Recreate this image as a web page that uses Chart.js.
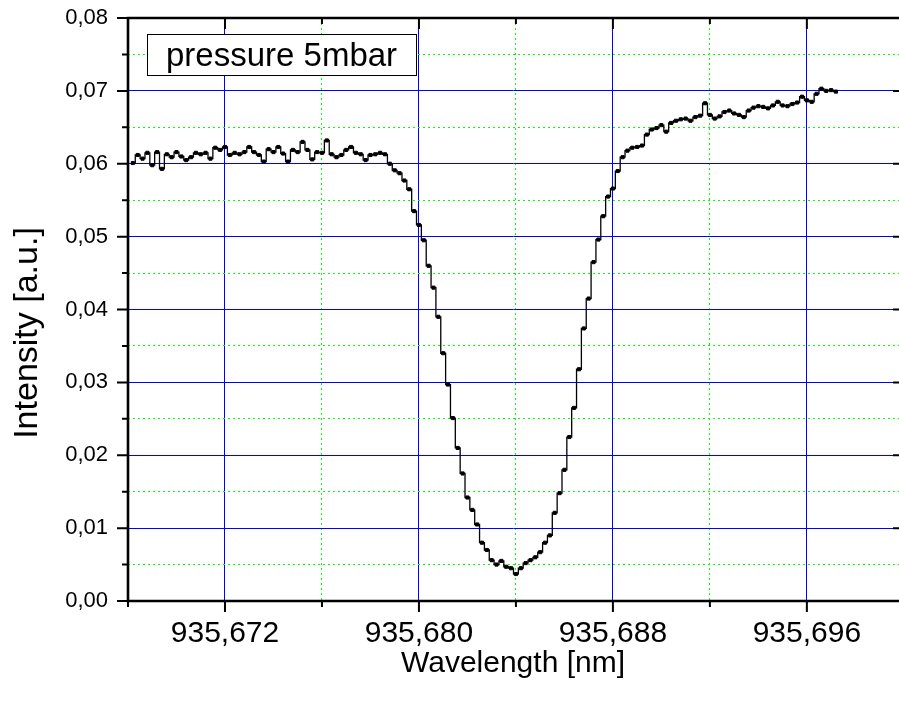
<!DOCTYPE html>
<html>
<head>
<meta charset="utf-8">
<script src="https://cdn.jsdelivr.net/npm/chart.js@4"></script>
<style>
  html, body { margin: 0; padding: 0; overflow: hidden; background: #fff; }
  canvas { display: block; }
</style>
</head>
<body>
<canvas id="myChart" width="899" height="706"></canvas>
<script>
const wavelength = [
  935.6682, 935.6684, 935.6686, 935.6688, 935.6690, 935.6692, 935.6694, 935.6696, 935.6698, 935.6700,
  935.6702, 935.6704, 935.6706, 935.6708, 935.6710, 935.6712, 935.6714, 935.6716, 935.6718, 935.6720,
  935.6722, 935.6724, 935.6726, 935.6728, 935.6730, 935.6732, 935.6734, 935.6736, 935.6738, 935.6740,
  935.6742, 935.6744, 935.6746, 935.6748, 935.6750, 935.6752, 935.6754, 935.6756, 935.6758, 935.6760,
  935.6762, 935.6764, 935.6766, 935.6768, 935.6770, 935.6772, 935.6774, 935.6776, 935.6778, 935.6780,
  935.6782, 935.6784, 935.6786, 935.6788, 935.6790, 935.6792, 935.6794, 935.6796, 935.6798, 935.6800,
  935.6802, 935.6804, 935.6806, 935.6808, 935.6810, 935.6812, 935.6814, 935.6816, 935.6818, 935.6820,
  935.6822, 935.6824, 935.6826, 935.6828, 935.6830, 935.6832, 935.6834, 935.6836, 935.6838, 935.6840,
  935.6842, 935.6844, 935.6846, 935.6848, 935.6850, 935.6852, 935.6854, 935.6856, 935.6858, 935.6860,
  935.6862, 935.6864, 935.6866, 935.6868, 935.6870, 935.6872, 935.6874, 935.6876, 935.6878, 935.6880,
  935.6882, 935.6884, 935.6886, 935.6888, 935.6890, 935.6892, 935.6894, 935.6896, 935.6898, 935.6900,
  935.6902, 935.6904, 935.6906, 935.6908, 935.6910, 935.6912, 935.6914, 935.6916, 935.6918, 935.6920,
  935.6922, 935.6924, 935.6926, 935.6928, 935.6930, 935.6932, 935.6934, 935.6936, 935.6938, 935.6940,
  935.6942, 935.6944, 935.6946, 935.6948, 935.6950, 935.6952, 935.6954, 935.6956, 935.6958, 935.6960,
  935.6962, 935.6964, 935.6966, 935.6968, 935.6970, 935.6972
];
const intensity = [
  0.0601, 0.0612, 0.0607, 0.0615, 0.0598, 0.0616, 0.0593, 0.0613, 0.0609, 0.0616,
  0.0610, 0.0605, 0.0609, 0.0615, 0.0613, 0.0615, 0.0607, 0.0622, 0.0619, 0.0623,
  0.0612, 0.0615, 0.0613, 0.0616, 0.0623, 0.0616, 0.0612, 0.0603, 0.0620, 0.0616,
  0.0623, 0.0614, 0.0603, 0.0619, 0.0616, 0.0630, 0.0619, 0.0606, 0.0616, 0.0615,
  0.0632, 0.0613, 0.0609, 0.0612, 0.0619, 0.0623, 0.0615, 0.0613, 0.0605, 0.0612,
  0.0613, 0.0615, 0.0613, 0.0600, 0.0591, 0.0587, 0.0577, 0.0565, 0.0535, 0.0516,
  0.0495, 0.0460, 0.0430, 0.0390, 0.0340, 0.0297, 0.0251, 0.0210, 0.0175, 0.0142,
  0.0125, 0.0105, 0.0080, 0.0070, 0.0056, 0.0050, 0.0055, 0.0047, 0.0045, 0.0037,
  0.0045, 0.0052, 0.0056, 0.0060, 0.0067, 0.0080, 0.0090, 0.0121, 0.0148, 0.0180,
  0.0225, 0.0265, 0.0318, 0.0374, 0.0415, 0.0465, 0.0496, 0.0528, 0.0555, 0.0566,
  0.0590, 0.0609, 0.0618, 0.0622, 0.0623, 0.0625, 0.0640, 0.0647, 0.0649, 0.0653,
  0.0644, 0.0656, 0.0659, 0.0661, 0.0662, 0.0659, 0.0664, 0.0666, 0.0683, 0.0667,
  0.0662, 0.0665, 0.0671, 0.0673, 0.0669, 0.0667, 0.0664, 0.0673, 0.0677, 0.0679,
  0.0678, 0.0676, 0.0680, 0.0685, 0.0680, 0.0679, 0.0682, 0.0684, 0.0692, 0.0687,
  0.0685, 0.0696, 0.0703, 0.0700, 0.0701, 0.0699
];

const xTicks = [935.668, 935.672, 935.676, 935.680, 935.684, 935.688, 935.692, 935.696];
const xTickLabels = ['', '935,672', '', '935,680', '', '935,688', '', '935,696'];
const yTicks = [0, 0.005, 0.01, 0.015, 0.02, 0.025, 0.03, 0.035, 0.04, 0.045, 0.05, 0.055, 0.06, 0.065, 0.07, 0.075, 0.08];
const yTickLabels = ['0,00', '', '0,01', '', '0,02', '', '0,03', '', '0,04', '', '0,05', '', '0,06', '', '0,07', '', '0,08'];
const legendText = 'pressure 5mbar';
const FONT = "'Liberation Sans', Arial, sans-serif";

// no extra room for edge labels: keep the plot box where Origin had it
function noPadding(s) {
  s.paddingLeft = 0; s.paddingRight = 0; s.paddingTop = 0; s.paddingBottom = 0;
}

// axis frame, tick marks, titles and the legend box (Origin style)
// the right-hand axis lies just past the window, only its inner ticks show
const framePlugin = {
  id: 'frame',
  afterDraw(chart) {
    const { ctx, chartArea: a, scales: { x, y } } = chart;
    const edge = chart.width;
    ctx.save();
    ctx.strokeStyle = '#000';
    ctx.lineWidth = 2.6;
    ctx.beginPath();
    ctx.moveTo(a.left, a.top); ctx.lineTo(a.left, a.bottom);
    ctx.moveTo(a.left - 1.3, a.bottom); ctx.lineTo(edge, a.bottom);
    ctx.moveTo(a.left - 1.3, a.top); ctx.lineTo(edge, a.top);
    ctx.stroke();

    ctx.lineWidth = 2;
    ctx.beginPath();
    xTicks.forEach((v, i) => {
      const px = x.getPixelForValue(v);
      const len = i % 2 ? 11 : 6;
      ctx.moveTo(px, a.bottom); ctx.lineTo(px, a.bottom + len);
      ctx.moveTo(px, a.top); ctx.lineTo(px, a.top + len);
    });
    yTicks.forEach((v, i) => {
      const py = y.getPixelForValue(v);
      ctx.moveTo(a.left - (i % 2 ? 6 : 11), py); ctx.lineTo(a.left, py);
      if (i % 2 === 0) { ctx.moveTo(edge - 6, py); ctx.lineTo(edge, py); }
    });
    ctx.stroke();

    ctx.fillStyle = '#000';
    ctx.textAlign = 'center';
    ctx.textBaseline = 'alphabetic';
    ctx.font = '30px ' + FONT;
    ctx.fillText('Wavelength [nm]', 513, 672);
    ctx.save();
    ctx.font = '34px ' + FONT;
    ctx.translate(37, 333);
    ctx.rotate(-Math.PI / 2);
    ctx.fillText('Intensity [a.u.]', 0, 0);
    ctx.restore();

    // legend
    ctx.fillStyle = '#fff';
    ctx.fillRect(147.5, 34.5, 269, 41);
    ctx.lineWidth = 1;
    ctx.strokeRect(147.5, 34.5, 269, 41);
    ctx.fillStyle = '#000';
    ctx.textAlign = 'left';
    ctx.font = '33px ' + FONT;
    ctx.fillText(legendText, 166, 66);
    ctx.restore();
  }
};

const ctx = document.getElementById('myChart');

new Chart(ctx, {
  type: 'line',
  data: {
    datasets: [{
      data: wavelength.map((w, i) => ({ x: w, y: intensity[i] })),
      borderColor: '#000',
      borderWidth: 1.3,
      stepped: 'middle',
      fill: false,
      pointStyle: 'rect',
      pointRadius: 2.2,
      pointBackgroundColor: '#000',
      pointBorderColor: '#000',
      pointBorderWidth: 1
    }]
  },
  options: {
    responsive: false,
    animation: false,
    events: [],
    layout: { autoPadding: false, padding: { top: 18, right: 0, left: 0, bottom: 0 } },
    scales: {
      x: {
        type: 'linear',
        min: 935.668,
        max: 935.6998,
        afterBuildTicks: s => { s.ticks = xTicks.map(v => ({ value: v })); },
        afterFit: s => { s.height = 105; noPadding(s); },
        ticks: {
          autoSkip: false,
          maxRotation: 0,
          padding: 15,
          color: '#000',
          font: { family: FONT, size: 30 },
          callback: (v, i) => xTickLabels[i]
        },
        grid: {
          drawTicks: false,
          lineWidth: 1,
          color: c => c.index % 2 ? '#0000ff' : '#00ff00'
        },
        border: {
          display: false,
          dash: c => c.index % 2 ? [] : [2, 3]
        }
      },
      y: {
        min: 0,
        max: 0.08,
        afterBuildTicks: s => { s.ticks = yTicks.map(v => ({ value: v })); },
        afterFit: s => { s.width = 128; noPadding(s); },
        ticks: {
          autoSkip: false,
          padding: 20,
          color: '#000',
          font: { family: FONT, size: 22 },
          callback: (v, i) => yTickLabels[i]
        },
        grid: {
          drawTicks: false,
          lineWidth: 1,
          color: c => c.index % 2 ? '#00ff00' : '#0000ff'
        },
        border: {
          display: false,
          dash: c => c.index % 2 ? [2, 3] : []
        }
      }
    },
    plugins: {
      legend: { display: false },
      tooltip: { enabled: false }
    }
  },
  plugins: [framePlugin]
});
</script>
</body>
</html>
